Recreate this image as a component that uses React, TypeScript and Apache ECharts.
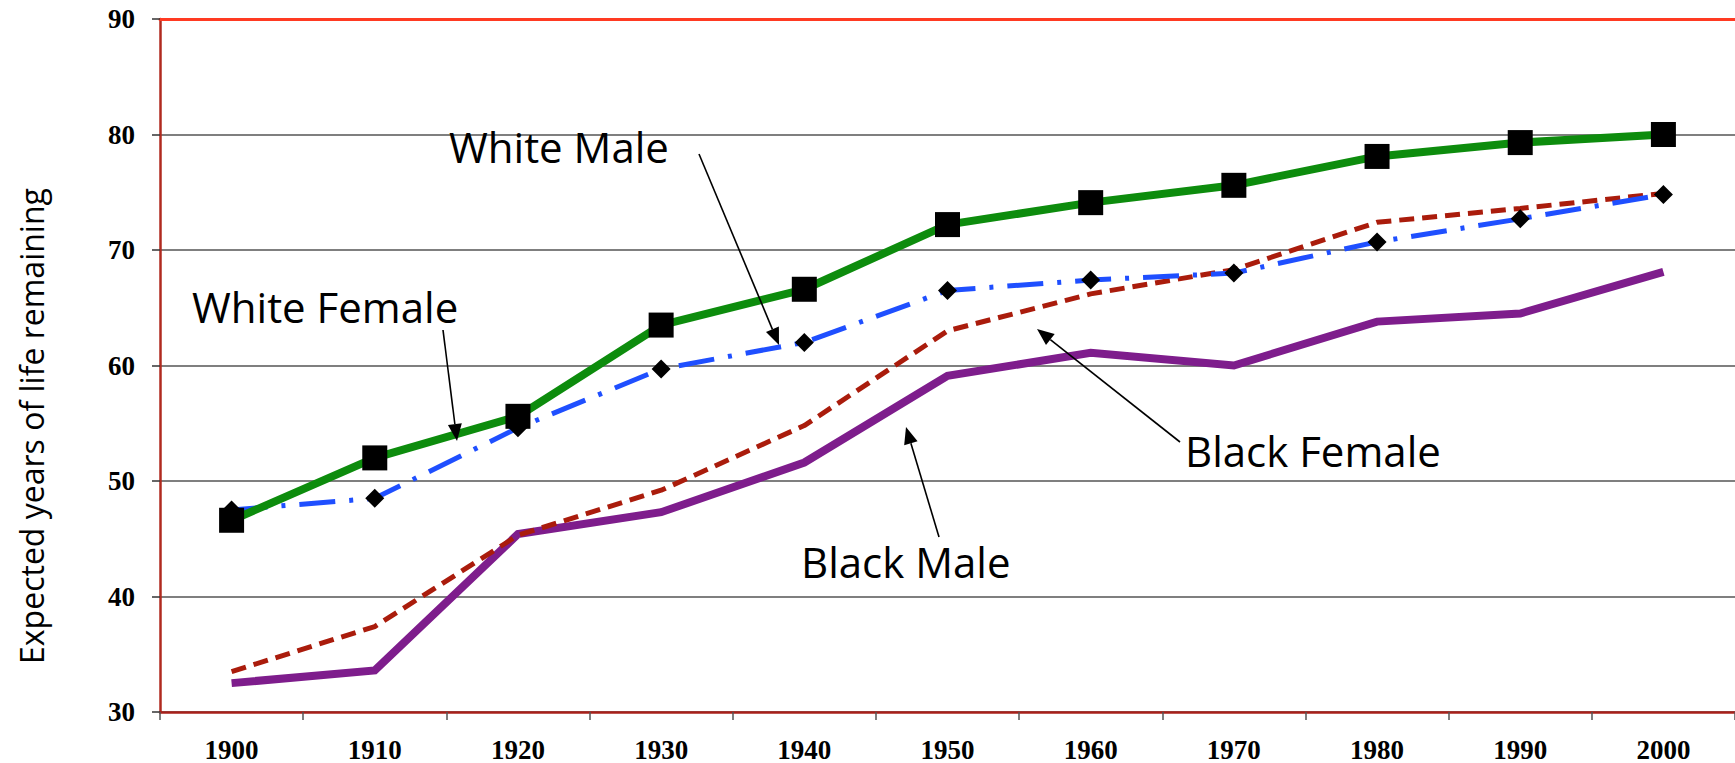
import React, { useEffect, useRef } from "react";
import * as echarts from "echarts";

const years = ["1900", "1910", "1920", "1930", "1940", "1950", "1960", "1970", "1980", "1990", "2000"];
const whiteFemale = [46.6, 52.0, 55.6, 63.5, 66.6, 72.2, 74.1, 75.6, 78.1, 79.3, 80.0];
const whiteMale = [47.5, 48.5, 54.6, 59.7, 62.0, 66.5, 67.4, 68.0, 70.7, 72.7, 74.8];
const blackFemale = [33.5, 37.4, 45.3, 49.2, 54.8, 63.0, 66.2, 68.3, 72.4, 73.6, 74.9];
const blackMale = [32.5, 33.6, 45.4, 47.3, 51.6, 59.1, 61.1, 60.0, 63.8, 64.5, 68.1];

const yMin = 30;
const yMax = 90;
const yStep = 10;

const annotations = [
  { text: "White Male", x: 449, y: 146, from: [699, 154], to: [779, 345] },
  { text: "White Female", x: 192, y: 306, from: [443, 330], to: [457, 441] },
  { text: "Black Female", x: 1185, y: 450, from: [1180, 442], to: [1037, 329] },
  { text: "Black Male", x: 801, y: 561, from: [939, 537], to: [906, 427] },
];

function arrow(from: number[], to: number[]) {
  const dx = to[0] - from[0];
  const dy = to[1] - from[1];
  const len = Math.sqrt(dx * dx + dy * dy);
  const ux = dx / len;
  const uy = dy / len;
  const headL = 17;
  const headW = 7;
  const bx = to[0] - ux * headL;
  const by = to[1] - uy * headL;
  return [
    {
      type: "line",
      shape: { x1: from[0], y1: from[1], x2: bx, y2: by },
      style: { stroke: "#000", lineWidth: 1.6 },
      z: 10,
    },
    {
      type: "polygon",
      shape: {
        points: [
          [to[0], to[1]],
          [bx - uy * headW, by + ux * headW],
          [bx + uy * headW, by - ux * headW],
        ],
      },
      style: { fill: "#000" },
      z: 10,
    },
  ];
}

export default function App() {
  const ref = useRef<HTMLDivElement>(null);
  useEffect(() => {
    if (!ref.current) return;
    const chart = echarts.init(ref.current, undefined, { renderer: "svg" });
    const graphics: any[] = [
      {
        type: "text",
        x: 31,
        y: 426,
        rotation: Math.PI / 2,
        style: {
          text: "Expected years of life remaining",
          font: '32px "Open Sans"',
          fill: "#000",
          textAlign: "center",
          textVerticalAlign: "middle",
        },
      },
    ];
    annotations.forEach((a) => {
      graphics.push({
        type: "text",
        x: a.x,
        y: a.y,
        style: {
          text: a.text,
          font: '42px "Open Sans"',
          fill: "#000",
          textAlign: "left",
          textVerticalAlign: "middle",
        },
        z: 10,
      });
      arrow(a.from, a.to).forEach((g) => graphics.push(g));
    });

    chart.setOption({
      animation: false,
      backgroundColor: "#fff",
      grid: { left: 160, top: 19, bottom: 51, right: -4, containLabel: false },
      xAxis: [
        {
          type: "category",
          data: years,
          boundaryGap: true,
          position: "bottom",
          axisLine: { show: true, lineStyle: { color: "#a8201a", width: 2.5 } },
          axisTick: { show: true, length: 8, inside: false, lineStyle: { color: "#555", width: 1.5 } },
          axisLabel: {
            show: true,
            margin: 24,
            fontFamily: '"Liberation Serif", serif',
            fontWeight: "bold",
            fontSize: 27,
            color: "#000",
          },
          splitLine: { show: false },
        },
        {
          type: "category",
          data: years,
          boundaryGap: true,
          position: "top",
          axisLine: { show: true, lineStyle: { color: "#ff3a22", width: 3 } },
          axisTick: { show: false },
          axisLabel: { show: false },
          splitLine: { show: false },
        },
      ],
      yAxis: {
        type: "value",
        min: yMin,
        max: yMax,
        interval: yStep,
        axisLine: { show: true, lineStyle: { color: "#b02a1f", width: 2.5 } },
        axisTick: { show: true, length: 8, inside: false, lineStyle: { color: "#333", width: 1.5 } },
        axisLabel: {
          margin: 25,
          fontFamily: '"Liberation Serif", serif',
          fontWeight: "bold",
          fontSize: 27,
          color: "#000",
        },
        splitLine: { show: true, lineStyle: { color: "#555", width: 1.5 } },
      },
      series: [
        {
          name: "Black Male",
          type: "line",
          data: blackMale,
          symbol: "none",
          lineStyle: { color: "#7e1d8c", width: 8, join: "miter" },
          z: 2,
        },
        {
          name: "Black Female",
          type: "line",
          data: blackFemale,
          symbol: "none",
          lineStyle: { color: "#aa1c0c", width: 5, type: [15, 8] },
          z: 3,
        },
        {
          name: "White Male",
          type: "line",
          data: whiteMale,
          symbol: "diamond",
          symbolSize: [19, 19],
          itemStyle: { color: "#000" },
          lineStyle: { color: "#1f4fff", width: 5, type: [36, 14, 4, 14] },
          z: 4,
        },
        {
          name: "White Female",
          type: "line",
          data: whiteFemale,
          symbol: "rect",
          symbolSize: 25,
          itemStyle: { color: "#000" },
          lineStyle: { color: "#0d8c0d", width: 8 },
          z: 5,
        },
      ],
      graphic: graphics,
    });
    return () => chart.dispose();
  }, []);
  return (
    <div
      ref={ref}
      style={{ position: "fixed", left: 0, top: 0, width: 1735, height: 763, background: "#fff" }}
    />
  );
}
